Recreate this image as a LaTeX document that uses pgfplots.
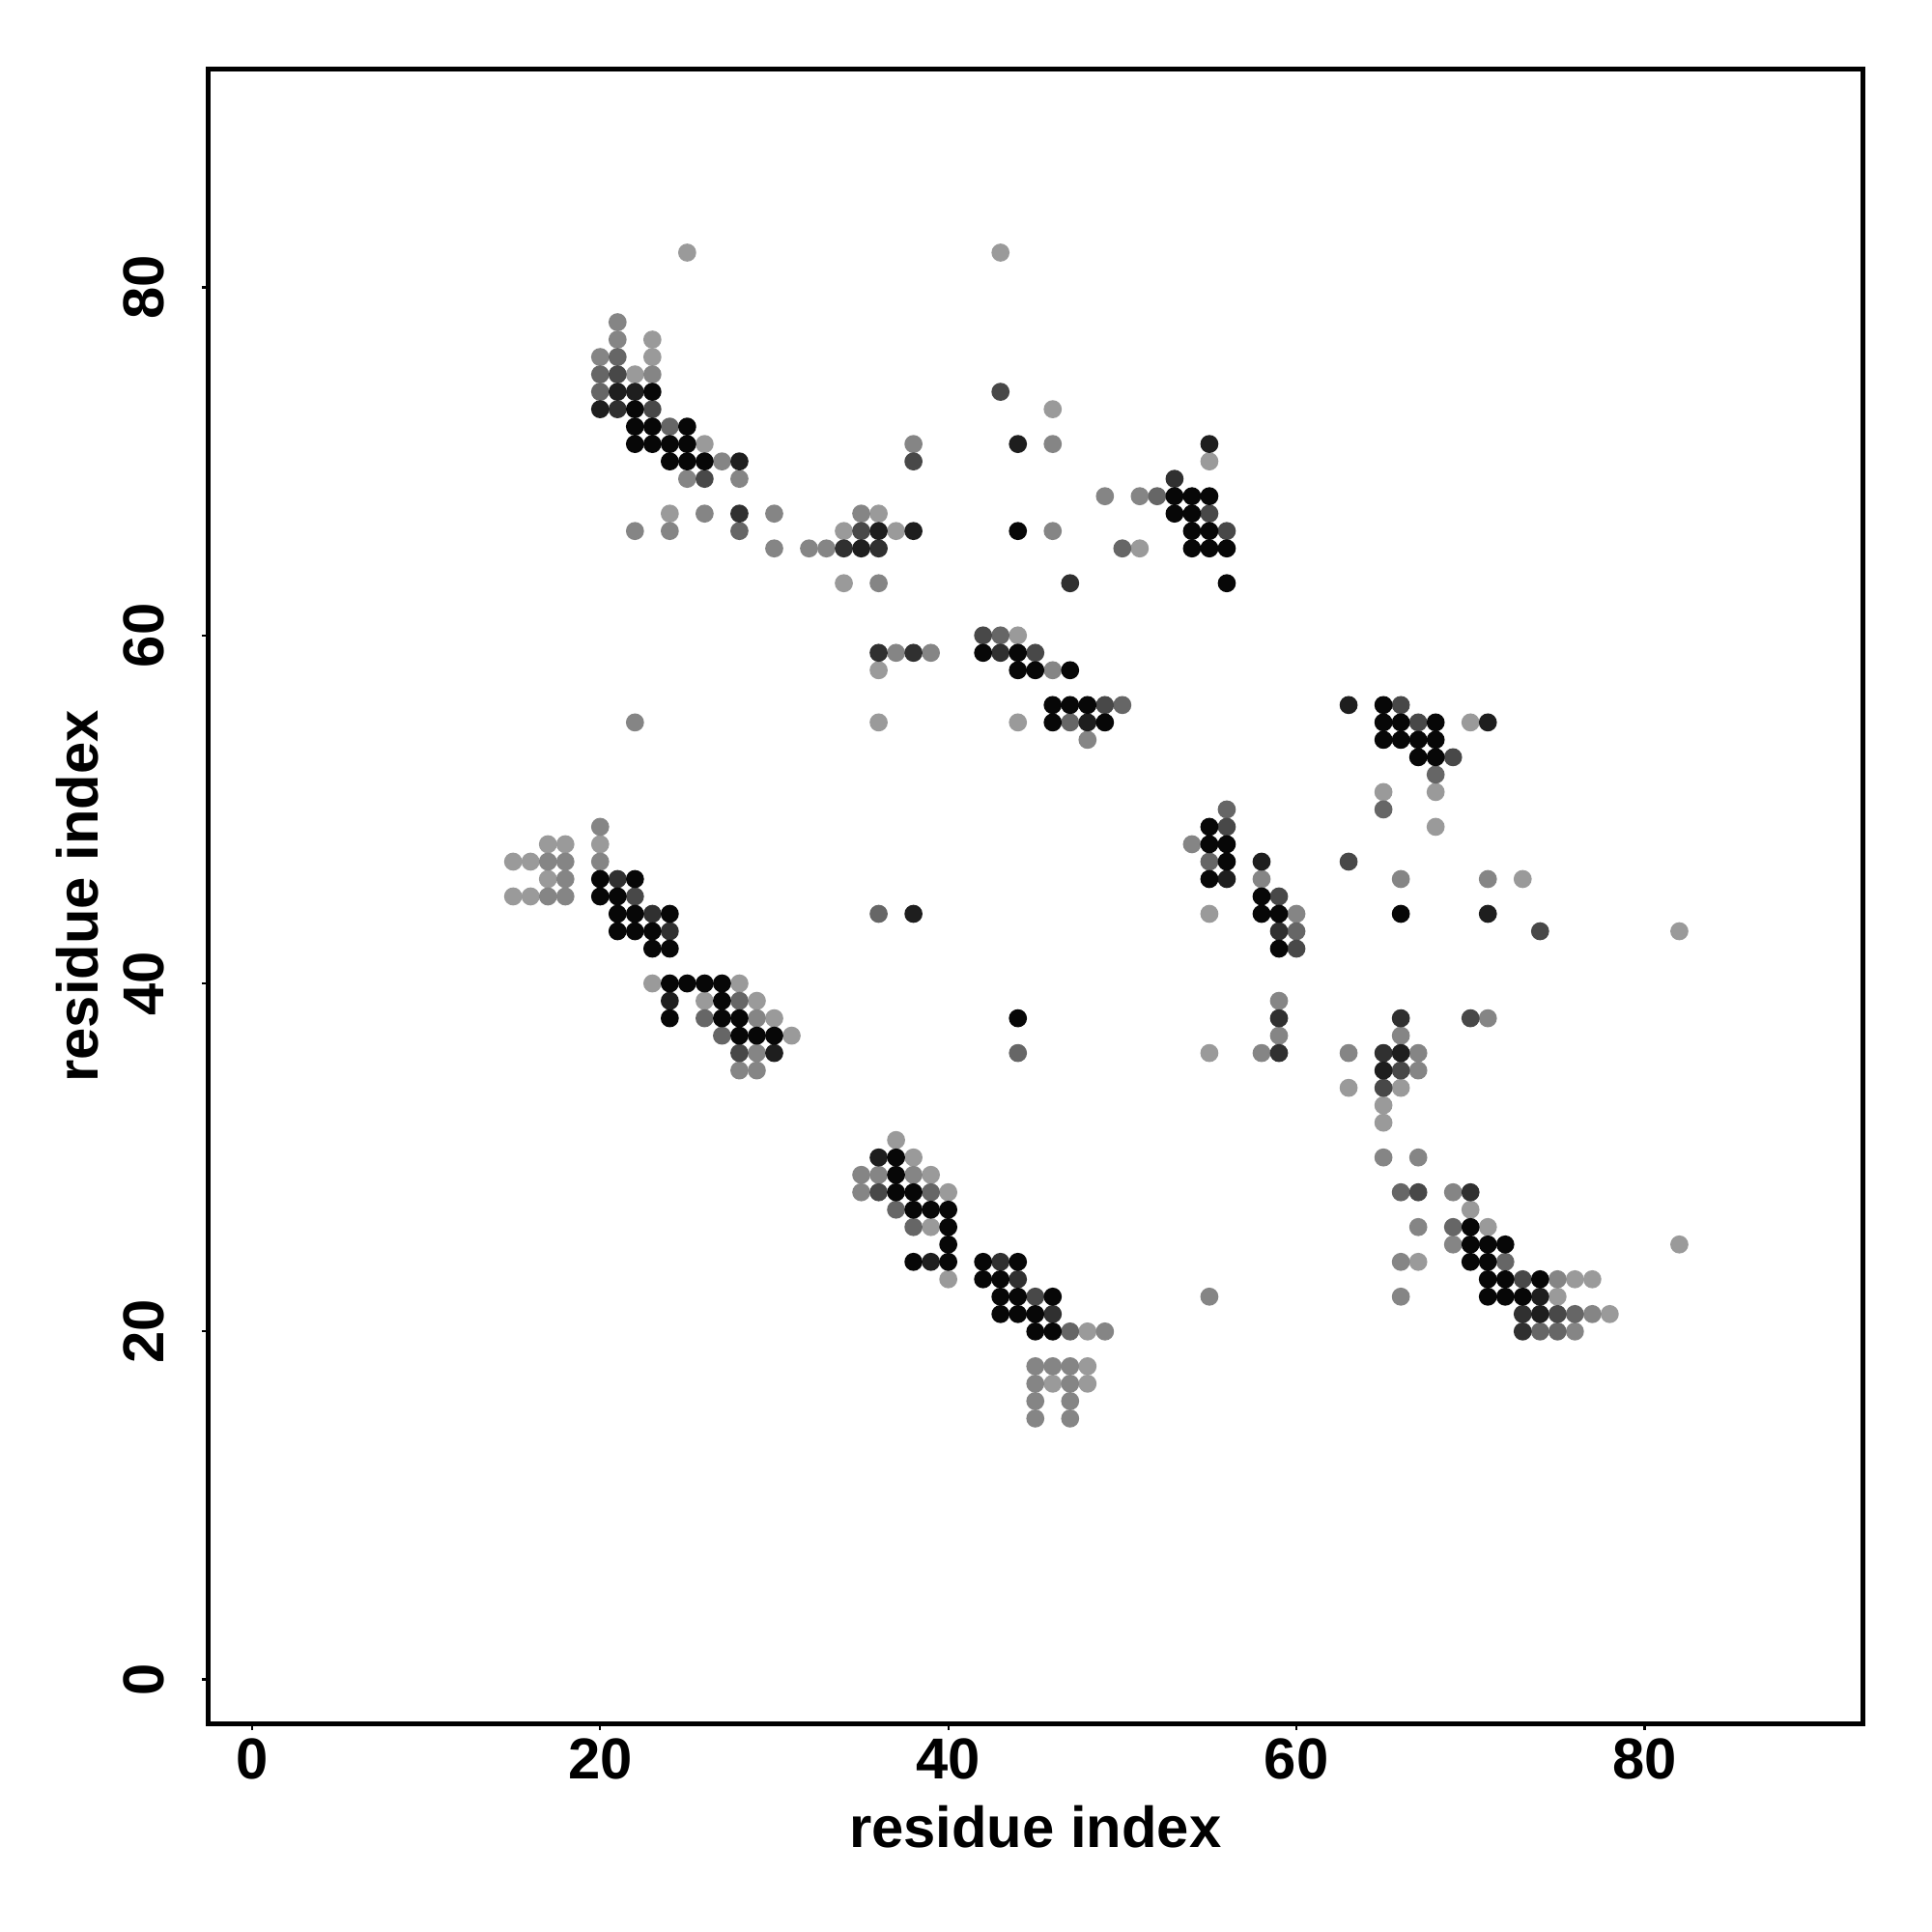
\documentclass[border=0pt]{standalone}
\usepackage{fontspec}
\setmainfont{Liberation Sans}
\usepackage{pgfplots}
\pgfplotsset{compat=1.18}
\definecolor{cA}{HTML}{070707}
\definecolor{cB}{HTML}{1E1E1E}
\definecolor{cC}{HTML}{303030}
\definecolor{cD}{HTML}{484848}
\definecolor{cE}{HTML}{666666}
\definecolor{cF}{HTML}{858585}
\definecolor{cG}{HTML}{9A9A9A}
\pgfplotsset{dot/.style={only marks, mark=*, mark size=1.72bp, color=#1, line width=0.3bp, mark options={solid, draw=#1, fill=#1}}}
\begin{document}
\begin{tikzpicture}
\path[use as bounding box] (0,0) rectangle (400bp,400bp);
\begin{axis}[
  at={(43.1bp,43.2bp)}, anchor=south west,
  scale only axis, width=342.5bp, height=342.4bp,
  xmin=-2.52, xmax=92.52, ymin=-2.52, ymax=92.52,
  axis line style={line width=1bp},
  xtick={0,20,40,60,80}, ytick={0,20,40,60,80},
  tick align=outside, tick pos=left,
  major tick length=1.3bp,
  tick style={line width=0.45bp, black},
  every tick label/.append style={font=\fontsize{12}{14}\selectfont\bfseries},
  /pgf/number format/assume math mode=true,
  xticklabel style={anchor=north, inner sep=0pt},
  xticklabel shift=1.7bp,
  yticklabel style={rotate=90, anchor=south, inner sep=0pt},
  yticklabel shift=7.5bp,
  xlabel={residue index}, ylabel={residue index},
  every axis x label/.style={at={(axis description cs:0.5,-0.0753)}, anchor=base, inner sep=0pt, font=\fontsize{12}{14}\selectfont\bfseries},
  every axis y label/.style={at={(axis description cs:-0.0663,0.5)}, rotate=90, anchor=base, inner sep=0pt, font=\fontsize{12}{14}\selectfont\bfseries},
]
% lightest
\addplot[dot=cG] coordinates {(25,82)(23,77)(23,76)(22,75)(26,71)(24,67)(34,66)(37,66)(36,67)(34,63)(43,82)(46,73)(55,70)(51,65)(44,60)(36,58)(36,55)(17,48)(18,48)(20,48)(15,47)(16,47)(17,46)(15,45)(16,45)(23,40)(28,40)(26,39)(29,39)(30,38)(31,37)(44,55)(55,44)(70,55)(65,51)(68,51)(68,49)(73,46)(82,43)(37,31)(38,30)(39,29)(40,28)(39,26)(40,23)(48,20)(48,18)(46,17)(48,17)(55,36)(63,34)(66,34)(65,33)(65,32)(70,27)(71,26)(67,24)(82,25)(76,23)(77,23)(75,22)(78,21)};
\addplot[dot=cF] coordinates {(21,78)(21,77)(20,76)(23,75)(27,70)(25,69)(28,69)(26,67)(30,67)(22,66)(24,66)(35,67)(30,65)(32,65)(33,65)(36,63)(38,71)(46,71)(49,68)(51,68)(46,66)(37,59)(22,55)(20,49)(17,47)(18,47)(20,47)(18,46)(17,45)(18,45)(29,38)(29,36)(28,35)(29,35)(39,59)(46,58)(48,54)(54,48)(58,46)(60,44)(59,39)(59,37)(66,46)(71,46)(71,38)(35,29)(36,29)(38,29)(35,28)(49,20)(55,22)(45,18)(46,18)(47,18)(45,17)(47,17)(45,16)(47,16)(45,15)(47,15)(58,36)(66,37)(63,36)(67,36)(67,35)(65,30)(67,30)(69,28)(67,26)(69,25)(66,24)(75,23)(66,22)(77,21)(76,20)};
\addplot[dot=cE] coordinates {(21,76)(20,75)(20,74)(24,72)(28,66)(52,68)(50,65)(43,60)(36,44)(28,39)(26,38)(27,37)(50,56)(47,55)(56,50)(55,47)(60,43)(68,52)(65,50)(39,28)(37,27)(38,26)(47,20)(44,36)(66,28)(69,26)(72,24)(76,21)(74,20)(75,20)};
\addplot[dot=cD] coordinates {(21,75)(23,73)(26,69)(35,66)(38,70)(43,74)(55,67)(56,66)(42,60)(22,45)(28,36)(45,59)(49,56)(56,49)(59,45)(60,42)(66,56)(67,55)(69,53)(63,47)(74,43)(70,38)(36,28)(45,22)(66,35)(65,34)(67,28)(73,23)(75,21)};
\addplot[dot=cC] coordinates {(21,73)(28,67)(34,65)(36,65)(53,69)(47,63)(36,59)(38,59)(21,46)(23,44)(24,43)(43,59)(59,43)(59,38)(66,38)(43,24)(44,23)(46,21)(59,36)(65,36)(70,28)(73,21)(73,20)};
\addplot[dot=cB] coordinates {(21,74)(22,74)(20,73)(28,70)(36,66)(38,66)(35,65)(44,71)(55,71)(38,44)(24,39)(30,36)(48,55)(58,47)(56,46)(63,56)(71,55)(71,44)(36,30)(39,24)(66,36)(65,35)(74,22)(74,21)};
\addplot[dot=cA] coordinates {(23,74)(22,73)(22,72)(23,72)(25,72)(22,71)(23,71)(24,71)(25,71)(24,70)(25,70)(26,70)(53,68)(54,68)(55,68)(53,67)(54,67)(44,66)(54,66)(55,66)(54,65)(55,65)(56,65)(56,63)(20,46)(22,46)(20,45)(21,45)(21,44)(22,44)(24,44)(21,43)(22,43)(23,43)(23,42)(24,42)(24,40)(25,40)(26,40)(27,40)(27,39)(24,38)(27,38)(28,38)(28,37)(29,37)(30,37)(42,59)(44,59)(44,58)(45,58)(47,58)(46,56)(47,56)(48,56)(46,55)(49,55)(55,49)(55,48)(56,48)(56,47)(55,46)(58,45)(58,44)(59,44)(59,42)(44,38)(65,56)(65,55)(66,55)(68,55)(65,54)(66,54)(67,54)(68,54)(67,53)(68,53)(66,44)(37,30)(37,29)(37,28)(38,28)(38,27)(39,27)(40,27)(40,26)(40,25)(38,24)(40,24)(42,24)(44,24)(42,23)(43,23)(43,22)(44,22)(46,22)(43,21)(44,21)(45,21)(45,20)(46,20)(70,26)(70,25)(71,25)(72,25)(70,24)(71,24)(71,23)(72,23)(74,23)(71,22)(72,22)(73,22)};
\end{axis}
\end{tikzpicture}
\end{document}
